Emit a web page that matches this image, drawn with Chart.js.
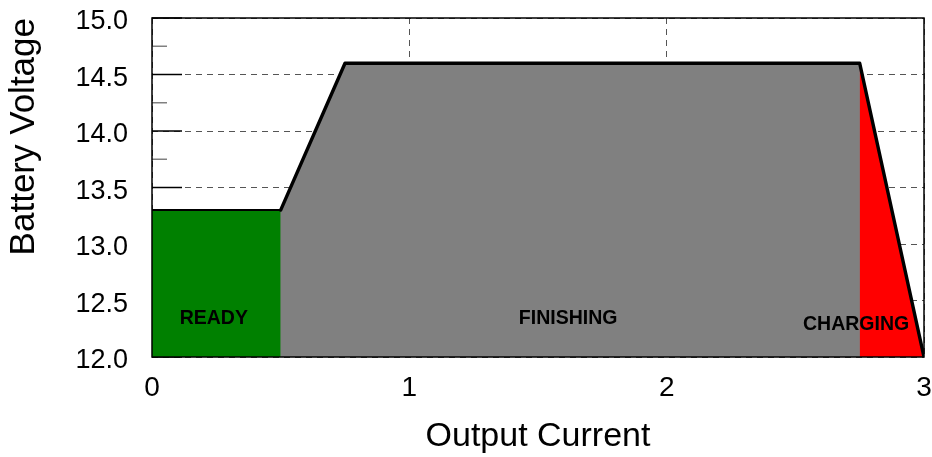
<!DOCTYPE html>
<html><head><meta charset="utf-8">
<script src="https://cdn.jsdelivr.net/npm/chart.js@4.4.1/dist/chart.umd.min.js"></script>
<style>html,body{margin:0;padding:0;background:#fff;}#wrap{width:932px;height:457px;}</style>
</head><body><div id="wrap"><canvas id="c" width="932" height="457"></canvas></div>
<script>
// ---- data ----
// voltage/current curve (black line); the grey region is the whole area under it,
// with the READY (green) and CHARGING (red) zones laid over it.
const curveX = [0, 0.5, 0.75, 2.75, 3.0];
const curveY = [13.3, 13.3, 14.6, 14.6, 12.0];
const readyX = [0, 0.5];
const readyY = [13.3, 13.3];
const chargeX = [2.75, 3.0];
const chargeY = [14.6, 12.0];
const regionLabels = ['READY', 'FINISHING', 'CHARGING'];
const regionLabelX = [0.24, 1.617, 2.736];
const regionLabelY = [12.34, 12.34, 12.29];
const yMajorTicks = [12.0, 12.5, 13.0, 13.5, 14.0, 14.5, 15.0];
const yMinorTicks = [12.25, 12.75, 13.25, 13.75, 14.25, 14.75];
const xTickLabels = ['0', '1', '2', '3'];

const FAMILY = "'Liberation Sans', Arial, Helvetica, sans-serif";
const pts = (xs, ys) => xs.map((x, i) => ({x: x, y: ys[i]}));

const framePlugin = {
  id: 'frame',
  beforeDatasetsDraw(chart) {
    const {ctx, chartArea: a, scales: {y}} = chart;
    ctx.save();
    ctx.lineWidth = 1.5;
    ctx.strokeStyle = '#000';
    yMajorTicks.forEach(v => {
      const py = y.getPixelForValue(v);
      ctx.beginPath(); ctx.moveTo(a.left, py); ctx.lineTo(a.left + 30, py); ctx.stroke();
    });
    ctx.strokeStyle = '#808080';
    yMinorTicks.forEach(v => {
      const py = y.getPixelForValue(v);
      ctx.beginPath(); ctx.moveTo(a.left, py); ctx.lineTo(a.left + 15, py); ctx.stroke();
    });
    ctx.restore();
  },
  afterDatasetsDraw(chart) {
    const {ctx, chartArea: a, scales: {x, y}} = chart;
    ctx.save();
    ctx.strokeStyle = '#000';
    ctx.lineWidth = 1.5;
    ctx.strokeRect(a.left, a.top, a.right - a.left, a.bottom - a.top);
    ctx.fillStyle = '#000';
    ctx.font = 'bold 19.5px ' + FAMILY;
    ctx.textAlign = 'center';
    ctx.textBaseline = 'middle';
    regionLabels.forEach((t, i) => {
      ctx.fillText(t, x.getPixelForValue(regionLabelX[i]), y.getPixelForValue(regionLabelY[i]));
    });
    ctx.restore();
  }
};

new Chart(document.getElementById('c'), {
  type: 'scatter',
  data: {
    datasets: [
      {label: 'curve', data: pts(curveX, curveY), showLine: true, fill: false,
       borderColor: '#000', borderWidth: 3.4, pointRadius: 0, tension: 0,
       borderJoinStyle: 'round', borderCapStyle: 'round',
       segment: {borderWidth: ctx => ctx.p0DataIndex === 0 ? 2 : 3.4}},
      {label: 'ready', data: pts(readyX, readyY), showLine: true, fill: 'start',
       backgroundColor: '#008000', borderWidth: 0, pointRadius: 0},
      {label: 'charging', data: pts(chargeX, chargeY), showLine: true, fill: 'start',
       backgroundColor: '#ff0000', borderWidth: 0, pointRadius: 0},
      {label: 'finishing', data: pts(curveX, curveY), showLine: true, fill: 'start',
       backgroundColor: '#808080', borderWidth: 0, pointRadius: 0}
    ]
  },
  options: {
    responsive: false,
    animation: false,
    devicePixelRatio: 1,
    layout: {padding: {top: 18, right: 8, left: 0, bottom: 0}},
    plugins: {legend: {display: false}, tooltip: {enabled: false}, title: {display: false}},
    scales: {
      x: {
        type: 'linear', min: 0, max: 3,
        afterFit: s => { s.height = 100; s.paddingLeft = 0; s.paddingRight = 0; },
        ticks: {stepSize: 1, padding: 14, color: '#000', font: {size: 28, family: FAMILY},
                callback: v => xTickLabels[v]},
        grid: {color: '#555', lineWidth: 1, drawTicks: false},
        border: {display: false, dash: [6, 5]},
        title: {display: true, text: 'Output Current', color: '#000', padding: 0,
                font: {size: 34, family: FAMILY}}
      },
      y: {
        type: 'linear', min: 12, max: 15,
        afterFit: s => { s.width = 152; s.paddingTop = 0; s.paddingBottom = 0; },
        ticks: {stepSize: 0.5, padding: 24, labelOffset: 4, color: '#000', font: {size: 27, family: FAMILY},
                callback: v => v.toFixed(1)},
        grid: {color: '#555', lineWidth: 1, drawTicks: false},
        border: {display: false, dash: [6, 5]},
        title: {display: true, text: 'Battery Voltage', color: '#000', align: 'end', padding: {top: 3},
                font: {size: 35, family: FAMILY}}
      }
    }
  },
  plugins: [framePlugin]
});
</script></body></html>
